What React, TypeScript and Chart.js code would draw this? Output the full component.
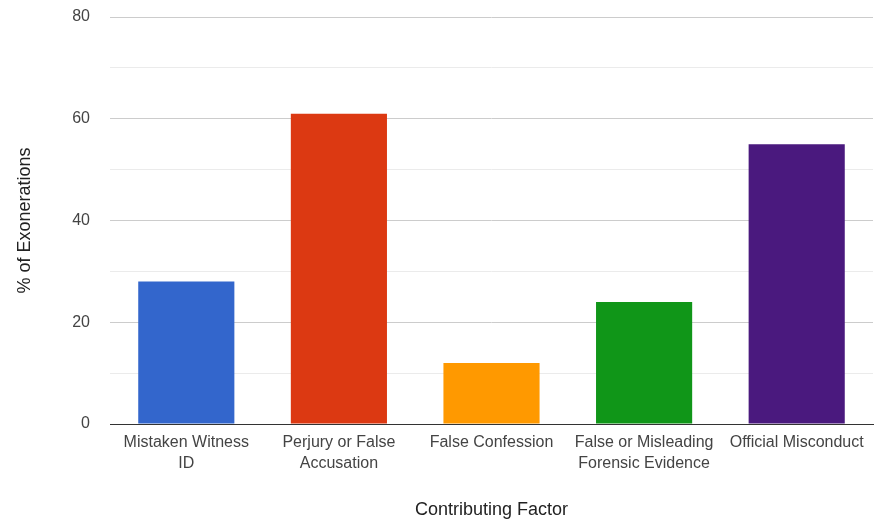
import React, { useEffect, useRef } from "react";
import { Chart, registerables } from "chart.js";

Chart.register(...registerables);

const categories: (string | string[])[] = [
  ["Mistaken Witness", "ID"],
  ["Perjury or False", "Accusation"],
  "False Confession",
  ["False or Misleading", "Forensic Evidence"],
  "Official Misconduct",
];
const values = [28, 61, 12, 24, 55];
const barColors = ["#3366cc", "#dc3912", "#ff9900", "#109618", "#4a197e"];
const yTickLabels = [0, 20, 40, 60, 80];
const xTitle = "Contributing Factor";
const yTitle = "% of Exonerations";

export default function App() {
  const ref = useRef<HTMLCanvasElement | null>(null);
  useEffect(() => {
    document.body.style.margin = "0";
    if (!ref.current) return;
    const chart = new Chart(ref.current, {
      type: "bar",
      data: {
        labels: categories as any,
        datasets: [
          {
            data: values,
            backgroundColor: barColors,
            borderWidth: 0,
            categoryPercentage: 1,
            barPercentage: 0.63,
          },
        ],
      },
      options: {
        animation: false,
        responsive: false,
        maintainAspectRatio: false,
        layout: { padding: { top: 17, right: 1, bottom: 0, left: 0 } },
        plugins: { legend: { display: false }, tooltip: { enabled: false } },
        scales: {
          x: {
            grid: { display: false, drawTicks: false },
            border: { display: true, color: "#333333", width: 1 },
            ticks: {
              color: "#444444",
              padding: 8,
              maxRotation: 0,
              autoSkip: false,
              font: { family: "'Liberation Sans', Arial, sans-serif", size: 16, lineHeight: 1.3 },
            },
            title: {
              display: true,
              text: xTitle,
              color: "#222222",
              padding: { top: 0, bottom: 3 },
              font: { family: "'Liberation Sans', Arial, sans-serif", size: 18 },
            },
            afterFit: (s: any) => {
              s.height = 100;
              s.paddingLeft = 0;
              s.paddingRight = 0;
            },
          },
          y: {
            min: 0,
            max: 80,
            grid: {
              drawTicks: false,
              color: (ctx: any) => {
                const v = ctx.tick ? ctx.tick.value : 0;
                if (v === 0) return "#333333";
                return yTickLabels.includes(v) ? "#cccccc" : "#ebebeb";
              },
            },
            border: { display: false },
            ticks: {
              stepSize: 10,
              padding: 20,
              color: "#444444",
              font: { family: "'Liberation Sans', Arial, sans-serif", size: 16 },
              callback: (v: any) => (yTickLabels.includes(Number(v)) ? String(v) : ""),
            },
            title: {
              display: true,
              text: yTitle,
              color: "#222222",
              padding: { top: 14, bottom: 0 },
              font: { family: "'Liberation Sans', Arial, sans-serif", size: 18 },
            },
            afterFit: (s: any) => {
              s.width = 110;
              s.paddingTop = 0;
              s.paddingBottom = 0;
            },
          },
        },
      },
    });
    return () => chart.destroy();
  }, []);
  return (
    <div style={{ position: "absolute", left: 0, top: 0, width: 874, height: 524 }}>
      <canvas ref={ref} width={874} height={524} style={{ width: 874, height: 524 }} />
    </div>
  );
}
